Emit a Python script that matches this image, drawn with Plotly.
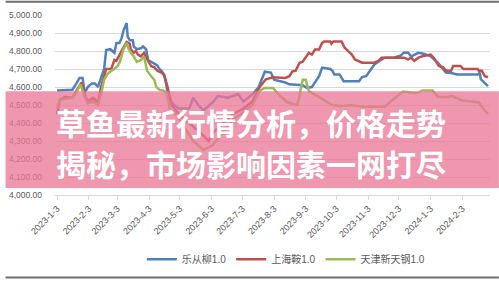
import plotly.graph_objects as go

# ---- data ----
blue_name = "乐从柳1.0"
blue_dates = ["2023-01-03","2023-01-18","2023-01-22","2023-01-25","2023-01-28","2023-01-30","2023-02-02","2023-02-06","2023-02-09","2023-02-12","2023-02-15","2023-02-18","2023-02-20","2023-02-24","2023-02-28","2023-03-02","2023-03-05","2023-03-07","2023-03-09","2023-03-12","2023-03-13","2023-03-15","2023-03-18","2023-03-19","2023-03-22","2023-03-26","2023-03-28","2023-03-31","2023-04-02","2023-04-05","2023-04-08","2023-04-11","2023-04-13","2023-04-15","2023-04-18","2023-04-20","2023-04-22","2023-04-27","2023-05-02","2023-05-12","2023-05-16","2023-05-21","2023-05-26","2023-06-05","2023-06-09","2023-06-19","2023-06-29","2023-07-04","2023-07-13","2023-07-19","2023-07-23","2023-07-25","2023-07-31","2023-08-03","2023-08-14","2023-08-18","2023-08-31","2023-09-04","2023-09-09","2023-09-12","2023-09-16","2023-09-19","2023-09-27","2023-09-29","2023-10-01","2023-10-06","2023-10-10","2023-10-25","2023-10-28","2023-11-01","2023-11-06","2023-11-09","2023-11-14","2023-11-19","2023-11-28","2023-12-05","2023-12-08","2023-12-12","2023-12-15","2023-12-19","2023-12-22","2023-12-27","2024-01-03","2024-01-10","2024-01-15","2024-01-18","2024-01-23","2024-01-29","2024-02-18","2024-02-20","2024-02-21","2024-02-24","2024-02-28"]
blue_values = [4580,4585,4620,4650,4650,4565,4600,4620,4620,4600,4650,4700,4805,4810,4790,4845,4845,4870,4915,4955,4880,4860,4860,4825,4810,4815,4825,4810,4750,4740,4730,4720,4700,4690,4665,4605,4540,4500,4480,4480,4540,4500,4470,4520,4550,4540,4560,4520,4560,4600,4660,4685,4680,4640,4625,4615,4610,4595,4600,4625,4660,4708,4700,4690,4670,4670,4632,4632,4655,4660,4700,4725,4745,4763,4763,4775,4792,4790,4770,4780,4790,4785,4770,4735,4700,4680,4678,4670,4670,4680,4643,4625,4605]

red_name = "上海鞍1.0"
red_dates = ["2023-01-03","2023-01-06","2023-01-11","2023-01-18","2023-01-22","2023-01-27","2023-01-30","2023-02-02","2023-02-07","2023-02-12","2023-02-15","2023-02-18","2023-02-20","2023-02-25","2023-02-28","2023-03-02","2023-03-05","2023-03-08","2023-03-12","2023-03-15","2023-03-16","2023-03-19","2023-03-21","2023-03-23","2023-03-26","2023-03-29","2023-04-01","2023-04-05","2023-04-08","2023-04-11","2023-04-15","2023-04-17","2023-04-19","2023-04-21","2023-04-25","2023-04-29","2023-05-07","2023-05-16","2023-05-26","2023-05-31","2023-06-05","2023-06-14","2023-06-24","2023-07-04","2023-07-13","2023-07-20","2023-07-26","2023-08-02","2023-08-14","2023-08-18","2023-08-21","2023-08-24","2023-08-28","2023-08-31","2023-09-03","2023-09-06","2023-09-09","2023-09-12","2023-09-16","2023-09-19","2023-09-21","2023-09-27","2023-09-28","2023-09-30","2023-10-08","2023-10-11","2023-10-15","2023-10-18","2023-10-21","2023-10-25","2023-10-28","2023-11-09","2023-11-13","2023-11-16","2023-12-02","2023-12-08","2023-12-12","2023-12-15","2023-12-18","2023-12-22","2023-12-27","2024-01-03","2024-01-06","2024-01-11","2024-01-15","2024-01-18","2024-01-23","2024-01-25","2024-02-01","2024-02-04","2024-02-18","2024-02-19","2024-02-22","2024-02-23","2024-02-25","2024-02-28"]
red_values = [4450,4530,4545,4540,4580,4625,4560,4520,4540,4515,4600,4660,4700,4700,4750,4745,4780,4810,4850,4840,4810,4790,4800,4780,4770,4790,4755,4715,4710,4690,4680,4670,4640,4600,4500,4470,4420,4380,4330,4300,4350,4400,4450,4480,4520,4600,4643,4654,4650,4660,4687,4690,4735,4740,4763,4790,4780,4808,4808,4845,4853,4853,4840,4853,4853,4818,4797,4780,4753,4745,4735,4735,4745,4763,4763,4763,4753,4763,4745,4763,4772,4780,4763,4717,4710,4690,4690,4717,4717,4700,4700,4690,4690,4680,4660,4654]

green_name = "天津新天钢1.0"
green_dates = ["2023-01-03","2023-01-06","2023-01-18","2023-01-22","2023-01-26","2023-01-29","2023-02-02","2023-02-07","2023-02-12","2023-02-15","2023-02-18","2023-02-21","2023-02-25","2023-02-28","2023-03-03","2023-03-05","2023-03-07","2023-03-09","2023-03-12","2023-03-13","2023-03-16","2023-03-19","2023-03-22","2023-03-26","2023-03-29","2023-04-01","2023-04-05","2023-04-08","2023-04-10","2023-04-13","2023-04-17","2023-04-20","2023-04-23","2023-04-29","2023-05-07","2023-05-16","2023-05-26","2023-06-05","2023-06-14","2023-06-24","2023-07-04","2023-07-13","2023-07-20","2023-07-25","2023-08-02","2023-08-09","2023-08-16","2023-08-26","2023-08-31","2023-09-03","2023-09-06","2023-09-14","2023-09-22","2023-09-29","2023-10-08","2023-10-18","2023-10-28","2023-11-19","2023-11-26","2023-12-07","2023-12-20","2023-12-26","2024-01-05","2024-01-10","2024-01-20","2024-01-24","2024-02-03","2024-02-19","2024-02-22","2024-02-28"]
green_values = [4480,4530,4540,4570,4615,4560,4510,4520,4500,4560,4640,4670,4690,4700,4715,4735,4770,4810,4845,4825,4790,4770,4740,4750,4770,4690,4660,4640,4600,4585,4580,4570,4480,4450,4380,4300,4250,4280,4350,4420,4460,4500,4580,4595,4595,4550,4515,4500,4640,4640,4577,4550,4525,4500,4495,4500,4490,4490,4525,4575,4565,4580,4580,4545,4545,4550,4525,4515,4490,4450]

tick_dates = ["2023-01-03","2023-02-03","2023-03-03","2023-04-03","2023-05-03","2023-06-03","2023-07-03","2023-08-03","2023-09-03","2023-10-03","2023-11-03","2023-12-03","2024-01-03","2024-02-03"]
tick_labels = ["2023-1-3","2023-2-3","2023-3-3","2023-4-3","2023-5-3","2023-6-3","2023-7-3","2023-8-3","2023-9-3","2023-10-3","2023-11-3","2023-12-3","2024-1-3","2024-2-3"]
y_ticks = [4000,4100,4200,4300,4400,4500,4600,4700,4800,4900,5000]

banner_line1 = "草鱼最新行情分析，价格走势"
banner_line2 = "揭秘，市场影响因素一网打尽"

# ---- figure ----
W, H = 499, 283
ML, MR, MT, MB = 50, 9, 15, 86
PH = H - MT - MB
PW = W - ML - MR

def py(pix):
    return (H - MB - pix) / PH

def px(pix):
    return (pix - ML) / PW

fig = go.Figure()
for name, xs, ys, col in [(blue_name, blue_dates, blue_values, "#4F81BD"),
                          (red_name, red_dates, red_values, "#C0504D"),
                          (green_name, green_dates, green_values, "#9BBB59")]:
    fig.add_trace(go.Scatter(x=xs, y=ys, mode="lines", name=name,
                             line=dict(color=col, width=2.5)))

font_fam = "Liberation Sans, Noto Sans CJK SC, sans-serif"
fig.update_layout(
    width=W, height=H,
    margin=dict(l=ML, r=MR, t=MT, b=MB),
    paper_bgcolor="white", plot_bgcolor="white",
    font=dict(family=font_fam, size=9, color="#595959"),
    showlegend=True,
    legend=dict(orientation="h", x=px(284), xanchor="center", y=py(262), yanchor="middle",
                font=dict(size=10, color="#595959"), bgcolor="rgba(0,0,0,0)",
                itemwidth=30, tracegroupgap=0),
    xaxis=dict(type="date", range=["2023-01-01", "2024-03-01"],
               tickvals=tick_dates, ticktext=tick_labels, tickangle=-45,
               showgrid=False, showline=True, linecolor="#d9d9d9", linewidth=1,
               ticks="outside", ticklen=4, tickcolor="#d9d9d9",
               tickfont=dict(size=9, color="#595959"), zeroline=False),
    yaxis=dict(range=[4000, 5000], tickvals=y_ticks, tickformat=",.2f",
               showgrid=True, gridcolor="#d9d9d9", gridwidth=1,
               showline=False, ticks="", zeroline=False,
               ticklabelstandoff=12,
               tickfont=dict(size=8.5, color="#595959")),
)

# pink banner overlay
fig.add_shape(type="rect", xref="paper", yref="paper",
              x0=px(0), x1=px(W), y0=py(190), y1=py(92),
              fillcolor="rgba(234,118,150,0.76)", line=dict(width=0), layer="above")
for txt, ypix in [(banner_line1, 123), (banner_line2, 165)]:
    fig.add_annotation(text="<b>" + txt + "</b>", xref="paper", yref="paper",
                       x=px(49), y=py(ypix), xanchor="left", yanchor="middle",
                       showarrow=False,
                       font=dict(family="Noto Sans CJK SC", size=30, color="white", weight=900))

# screenshot border lines top and bottom
for ypix in (1.5, 280.5):
    fig.add_shape(type="line", xref="paper", yref="paper",
                  x0=px(0), x1=px(W), y0=py(ypix), y1=py(ypix),
                  line=dict(color="#6e6e6e", width=2), layer="above")

fig.write_html("out.html")
